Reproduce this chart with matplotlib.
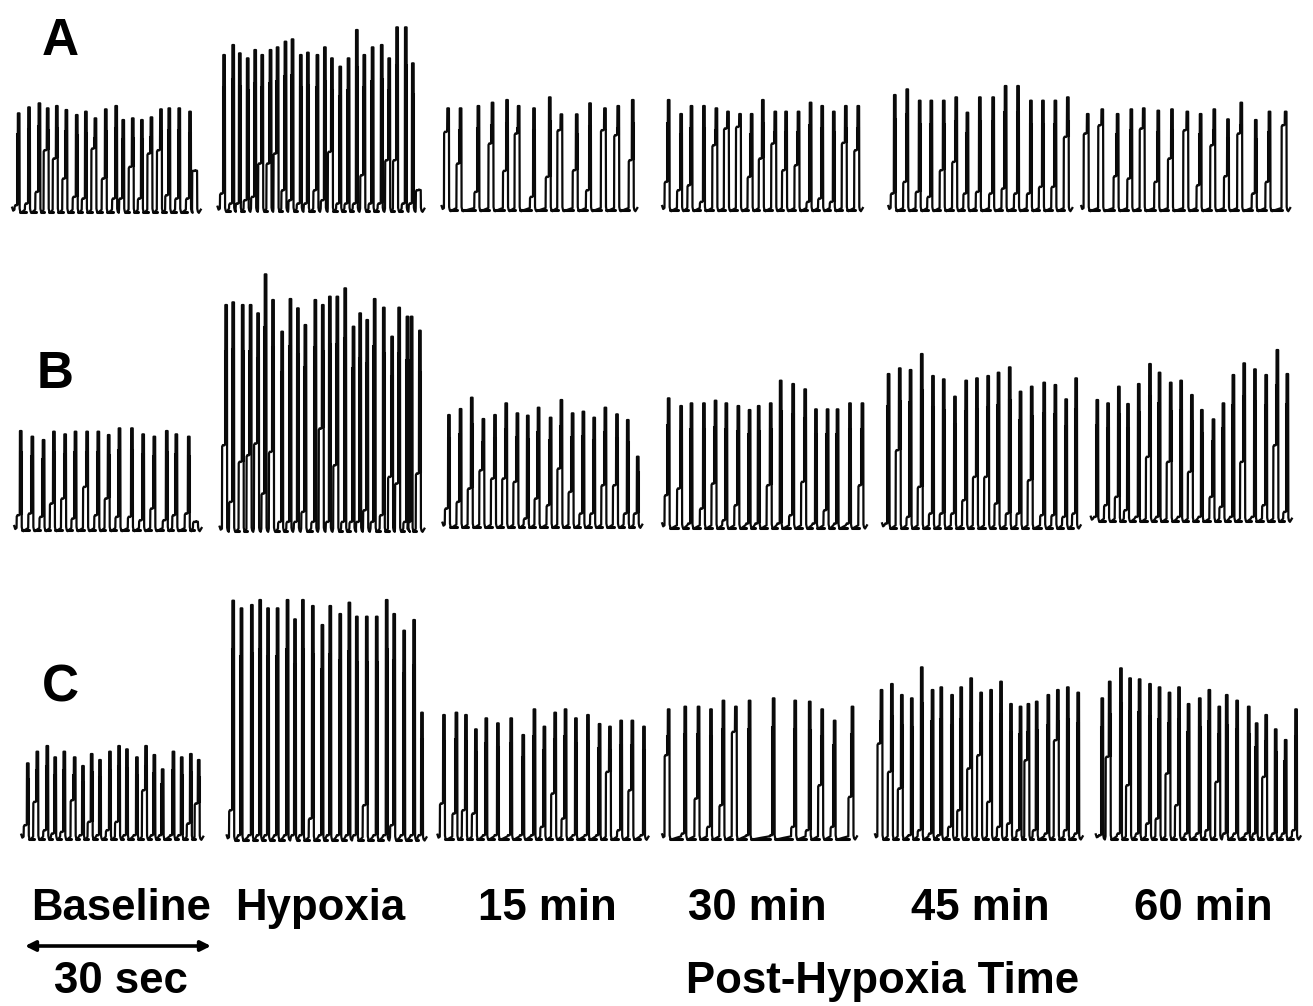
import matplotlib
matplotlib.use("Agg")
import matplotlib.pyplot as plt

plt.rcParams['font.family'] = ['Liberation Sans', 'DejaVu Sans']

W, H = 1313, 1006

# Values read from enlarged views: burst time, burst top level, lower loop level.
a_base_t = [45,70,95,115,137,160,185,207,230,255,280,297,320,342,365,388,408,432,458,473]
a_base_top = [280,262,250,265,258,270,285,275,295,268,258,300,295,300,292,268,265,265,275,452]
a_base_loop = [555,550,515,390,415,475,530,535,385,475,535,535,440,535,400,390,525,535,535,452]

a_hyp_t = [540,562,578,597,615,632,652,669,688,705,725,742,765,783,800,820,840,860,878,898,920,938,957,978,995,1012]
a_hyp_top = [105,75,100,115,90,105,90,82,65,58,105,98,105,82,115,140,115,30,105,82,75,115,22,22,130,510]
a_hyp_loop = [520,550,550,540,530,430,430,400,510,540,550,550,510,540,395,550,550,550,465,550,550,420,420,550,550,510]

a_15_t = [1080,1110,1153,1187,1222,1250,1287,1325,1353,1390,1422,1458,1490,1525]
a_15_top = [265,265,258,248,240,258,265,232,283,283,250,265,258,240]
a_15_loop = [335,430,515,370,452,340,530,470,330,450,510,330,345,420]

a_30_t = [45,75,100,130,160,188,217,245,272,302,328,358,387,415,443,472,502]
a_30_top = [90,132,108,108,115,125,132,132,90,125,125,125,98,108,125,108,108]
a_30_loop = [335,360,345,395,225,175,170,320,265,220,300,285,395,385,395,218,240]

a_45_t = [590,620,650,678,708,738,765,795,827,857,887,918,947,977,1007]
a_45_top = [75,58,92,92,92,82,128,82,82,48,48,92,92,92,82]
a_45_loop = [370,335,365,380,300,275,370,365,370,355,370,370,350,350,200]

a_60_t = [1055,1090,1127,1160,1190,1225,1258,1295,1327,1360,1393,1425,1460,1493,1532]
a_60_top = [132,118,132,118,115,122,118,125,132,118,148,98,150,125,125]
a_60_loop = [190,165,318,325,175,335,265,180,345,225,318,190,370,335,165]

b_base_t = [50,78,105,130,157,182,210,237,262,288,318,345,372,402,425,455,475]
b_base_top = [498,515,525,500,508,500,500,500,510,490,490,508,515,498,508,515,770]
b_base_loop = [750,745,755,715,700,760,665,750,700,755,755,765,730,765,750,745,770]

b_hyp_t = [545,562,585,604,622,640,658,680,700,718,736,760,778,795,813,832,852,868,885,903,925,945,962,982,992,1012]
b_hyp_top = [120,112,120,120,145,28,105,200,102,130,180,105,120,95,95,70,185,145,165,102,128,215,128,155,155,197]
b_hyp_loop = [540,710,590,570,535,685,560,770,770,770,740,770,490,770,600,770,770,770,735,770,750,635,655,770,770,625]

b_15_t = [1082,1110,1137,1165,1193,1220,1247,1272,1298,1327,1353,1380,1406,1432,1459,1487,1513,1537]
b_15_top = [450,432,398,462,450,415,445,452,428,458,405,445,440,458,428,448,465,575]
b_15_loop = [730,710,670,615,640,640,650,760,700,720,610,680,745,745,660,660,745,745]

b_30_t = [45,75,100,130,158,184,213,240,262,291,315,345,374,400,428,452,482,512]
b_30_top = [175,198,190,190,182,190,198,210,198,190,122,132,148,208,208,208,190,190]
b_30_loop = [465,445,550,505,430,540,495,550,550,435,550,525,425,550,510,550,550,435]

b_45_t = [575,602,628,655,682,708,735,762,788,815,840,867,893,920,950,977,1003,1027]
b_45_top = [102,85,90,42,108,118,170,122,115,108,98,82,155,140,128,135,178,115]
b_45_loop = [550,330,530,440,520,520,520,480,410,410,490,520,520,420,525,525,530,520]

b_60_t = [1078,1104,1130,1152,1178,1205,1228,1255,1280,1306,1330,1358,1382,1406,1432,1458,1485,1512,1536]
b_60_top = [180,190,140,192,132,72,98,128,122,165,210,238,190,105,70,88,105,30,102]
b_60_loop = [530,495,470,510,530,350,530,365,530,395,530,470,500,530,365,530,495,315,515]

c_base_t = [67,90,114,133,155,180,200,221,241,265,287,306,330,352,372,392,418,438,460,479]
c_base_top = [520,485,468,502,485,502,528,492,510,485,468,478,502,468,495,538,485,502,492,510]
c_base_loop = [705,635,720,730,725,630,735,695,735,720,695,735,735,600,735,735,735,735,700,640]

c_hyp_t = [562,582,607,627,646,669,693,711,730,754,777,796,820,842,860,884,908,932,950,974,998,1017]
c_hyp_top = [32,55,45,30,55,55,30,88,30,48,105,48,72,38,80,80,80,30,72,122,90,368]
c_hyp_loop = [660,735,735,735,735,735,735,735,735,685,735,735,735,735,735,645,735,735,705,735,735,735]

c_15_t = [1070,1100,1123,1147,1172,1200,1232,1261,1288,1312,1338,1363,1388,1417,1445,1470,1497,1524,1552]
c_15_top = [375,368,375,418,385,400,385,435,358,410,368,358,385,375,402,410,392,392,410]
c_15_loop = [640,670,660,670,735,735,735,735,735,710,610,685,735,735,735,545,720,600,735]

c_30_t = [45,85,117,147,177,207,240,298,350,385,415,445,488]
c_30_top = [148,140,140,148,122,140,122,115,122,125,148,182,140]
c_30_loop = [285,520,415,500,435,215,525,525,500,510,375,500,410]

c_45_t = [558,583,607,631,655,681,702,728,750,774,798,822,846,870,893,912,932,960,983,1007,1032]
c_45_top = [90,72,105,115,22,90,82,105,82,55,98,90,65,132,140,132,125,105,90,82,98]
c_45_loop = [250,335,385,525,510,520,525,500,450,325,285,425,500,490,510,300,510,520,240,510,520]

c_60_t = [1090,1108,1135,1157,1180,1205,1228,1252,1275,1298,1325,1348,1372,1390,1415,1443,1462,1485,1508,1532,1557]
c_60_top = [115,65,25,55,58,72,82,98,82,132,115,90,140,105,122,140,190,165,208,240,148]
c_60_loop = [525,290,520,375,520,490,475,340,435,520,520,510,365,520,520,520,520,350,520,520,510]

panel_labels = ['A', 'B', 'C']
condition_labels = ['Baseline', 'Hypoxia', '15 min', '30 min', '45 min', '60 min']

X_SCALE = 2.41
Y_SCALE = 3.0
TIP = 0.2

traces = [
    (a_base_t, a_base_top, a_base_loop, 0, 20, 575),
    (a_hyp_t, a_hyp_top, a_hyp_loop, 0, 20, 572),
    (a_15_t, a_15_top, a_15_loop, 0, 20, 570),
    (a_30_t, a_30_top, a_30_loop, 650, 70, 420),
    (a_45_t, a_45_top, a_45_loop, 650, 70, 420),
    (a_60_t, a_60_top, a_60_loop, 650, 70, 420),
    (b_base_t, b_base_top, b_base_loop, 0, 265, 795),
    (b_hyp_t, b_hyp_top, b_hyp_loop, 0, 265, 797),
    (b_15_t, b_15_top, b_15_loop, 0, 265, 785),
    (b_30_t, b_30_top, b_30_loop, 650, 340, 562),
    (b_45_t, b_45_top, b_45_loop, 650, 340, 562),
    (b_60_t, b_60_top, b_60_loop, 650, 340, 542),
    (c_base_t, c_base_top, c_base_loop, 0, 590, 746),
    (c_hyp_t, c_hyp_top, c_hyp_loop, 0, 590, 748),
    (c_15_t, c_15_top, c_15_loop, 0, 590, 746),
    (c_30_t, c_30_top, c_30_loop, 650, 660, 535),
    (c_45_t, c_45_top, c_45_loop, 650, 660, 535),
    (c_60_t, c_60_top, c_60_loop, 650, 660, 535),
]

fig = plt.figure(figsize=(W / 100, H / 100), dpi=100)
ax = fig.add_axes([0, 0, 1, 1])
ax.set_xlim(0, W)
ax.set_ylim(H, 0)
ax.axis('off')

for times, tops, loops, left, top, base in traces:
    px = [left + t / X_SCALE for t in times]
    py = [top + v / Y_SCALE for v in tops]
    pl = [top + v / Y_SCALE for v in loops]
    b = top + base / Y_SCALE
    xs = [px[0] - 6.5, px[0] - 5.5]
    ys = [b - 4, b - 1]
    for i, (x, yt, yl) in enumerate(zip(px, py, pl)):
        step = yt + TIP * (b - yt)
        xs += [x - 4.2, x - 4.0, x - 3.2, x - 1.9, x - 1.0, x - 0.8, x + 0.8, x + 1.0, x + 1.6, x + 2.6]
        ys += [b - 2, yl + 1.5, yl, yl + 0.4, yl - 0.5, yt, yt, b - 3, b, b + 1.2]
        if i + 1 < len(px):
            gap = px[i + 1] - 4.2 - (x + 2.6)
            if gap > 1:
                xs += [x + 2.6 + gap * 0.5]
                ys += [b - 0.5]
                ax.plot([x + 1.5, px[i + 1] - 3.5], [b + 0.3, b + 0.3], color='#050505', lw=2.2,
                        solid_capstyle='round')
        if yl > step:
            ax.plot([x - 0.2, x - 0.2], [yl, step], color='#050505', lw=2.9, solid_capstyle='butt')
    xs += [px[-1] + 4.5]
    ys += [b - 2]
    ax.plot(xs, ys, color='#0a0a0a', lw=1.6, solid_joinstyle='round')

for label, x, y in zip(panel_labels, [60, 55, 60], [55, 388, 702]):
    ax.text(x, y, label, fontsize=37, fontweight='bold', ha='center', va='baseline', color='black')

for label, x in zip(condition_labels, [121, 320, 547, 757, 980, 1203]):
    ax.text(x, 920, label, fontsize=31.5, fontweight='bold', ha='center', va='baseline', color='black')

ax.text(121, 993, '30 sec', fontsize=31.5, fontweight='bold', ha='center', va='baseline', color='black')
ax.text(883, 993, 'Post-Hypoxia Time', fontsize=31.5, fontweight='bold', ha='center', va='baseline', color='black')
ax.annotate('', xy=(211, 946), xytext=(25, 946),
            arrowprops=dict(arrowstyle='<|-|>', color='black', lw=2.6, mutation_scale=15, shrinkA=0, shrinkB=0))

fig.savefig('out.png', dpi=100, facecolor='white')
